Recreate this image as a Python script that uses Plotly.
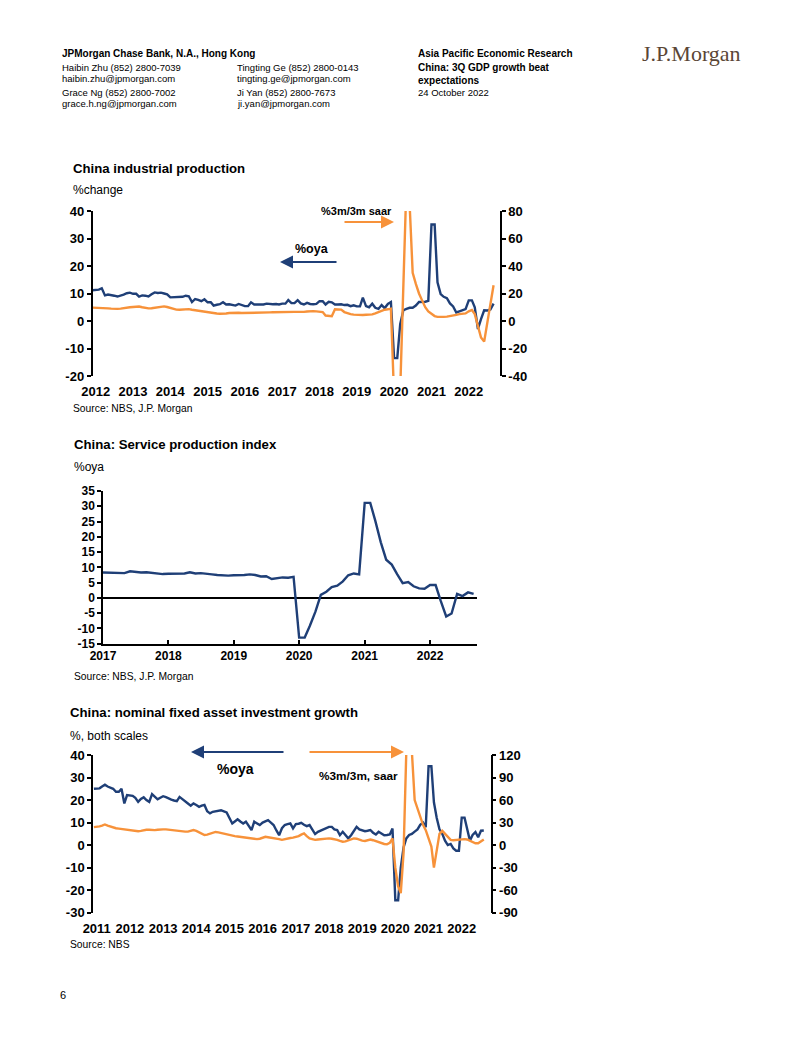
import pandas as pd
import plotly.graph_objects as go

W, H = 802, 1037
FONT = "Liberation Sans, Arial, sans-serif"
BLUE = "#1f3f77"
ORANGE = "#f7923a"

# ---------------- Chart 1: China industrial production (Dec 2011 - Sep 2022)
ip_start = "2011-12-01"
ip_oya = [11.2,
          11.4, 11.4, 11.9, 9.3, 9.6, 9.5, 9.2, 8.9, 9.2, 9.6, 10.1, 10.3,
          9.9, 9.9, 8.9, 9.3, 9.2, 8.9, 9.7, 10.4, 10.2, 10.3, 10.0, 9.7,
          8.6, 8.6, 8.8, 8.7, 8.8, 9.2, 9.0, 6.9, 8.0, 7.7, 7.2, 7.9,
          6.8, 6.8, 5.6, 5.9, 6.1, 6.8, 6.0, 6.1, 5.7, 5.6, 6.2, 5.9,
          5.4, 5.4, 6.8, 6.0, 6.0, 6.2, 6.0, 6.3, 6.1, 6.1, 6.2, 6.0,
          6.3, 6.3, 7.6, 6.5, 6.5, 7.6, 6.4, 6.0, 6.6, 6.2, 6.1, 6.2,
          7.2, 7.2, 6.0, 7.0, 6.8, 6.0, 6.0, 6.1, 5.8, 5.9, 5.4, 5.7,
          5.3, 5.3, 8.5, 5.4, 5.0, 6.3, 4.8, 4.4, 5.8, 4.7, 6.2, 6.9,
          -13.5, -13.5, -1.1, 3.9, 4.4, 4.8, 4.8, 5.6, 6.9, 6.9, 7.0, 7.3,
          35.1, 35.1, 14.1, 9.8, 8.8, 8.3, 6.4, 5.3, 3.1, 3.5, 3.8, 4.3,
          7.5, 7.5, 5.0, -2.9, 0.7, 3.9, 3.8, 4.2, 6.3]
ip_saar = [9.7,
           9.7, 9.7, 9.5, 9.3, 9.2, 9.0, 8.8, 8.8, 9.0, 9.5, 9.8, 10.0,
           10.2, 10.4, 10.5, 10.0, 9.5, 9.2, 9.3, 9.6, 10.0, 10.4, 10.6, 10.2,
           9.5, 8.8, 8.3, 8.2, 8.4, 8.6, 8.6, 8.2, 7.8, 7.6, 7.4, 7.0,
           6.6, 6.2, 5.8, 5.5, 5.3, 5.2, 5.5, 5.8, 6.0, 6.0, 6.0, 5.8,
           5.8, 5.9, 6.0, 6.0, 5.9, 5.8, 6.0, 6.1, 6.3, 6.4, 6.5, 6.5,
           6.4, 6.4, 6.5, 6.6, 6.6, 6.6, 6.5, 6.6, 6.9, 7.2, 7.2, 7.0,
           7.0, 6.5, 4.0, 3.6, 3.5, 8.5, 8.6, 8.3, 6.5, 5.5, 5.0, 4.6,
           4.4, 4.3, 4.4, 4.5, 4.5, 4.8, 5.5, 6.5, 7.5, 8.2, 8.5, 9.0,
           -55, -70, -50, 30, 100, 85, 35, 27, 20, 15, 10, 7,
           5, 3.6, 3.0, 2.8, 3.0, 3.2, 3.5, 4.0, 4.5, 5.0, 5.0, 5.5,
           7, 8, 5, -3, -12, -15, -1, 12, 26]
ip_years = list(range(2012, 2023))
ip_range = ["2011-12-01", "2022-11-03"]
ip_left_ticks = [-20, -10, 0, 10, 20, 30, 40]
ip_right_ticks = [-40, -20, 0, 20, 40, 60, 80]

# ---------------- Chart 2: Service production index (Jan 2017 - Sep 2022)
sv_start = "2017-01-01"
sv_oya = [8.3, 8.3, 8.2, 8.1, 8.1, 8.7, 8.4, 8.3, 8.4, 8.2, 7.9, 7.8,
          7.9, 7.9, 8.0, 8.0, 8.4, 8.0, 8.1, 8.0, 7.7, 7.5, 7.3, 7.3,
          7.4, 7.4, 7.5, 7.7, 7.5, 7.0, 7.1, 6.2, 6.4, 6.7, 6.6, 6.9,
          -13.0, -13.0, -9.1, -4.5, 1.0, 2.0, 3.5, 4.0, 5.4, 7.4, 8.0, 7.7,
          31.1, 31.1, 25.3, 18.2, 12.5, 10.9, 7.8, 4.8, 5.2, 3.8, 3.1, 3.0,
          4.2, 4.2, -0.9, -6.1, -5.1, 1.3, 0.6, 1.8, 1.3]
sv_years = list(range(2017, 2023))
sv_range = ["2017-01-01", "2022-09-20"]
sv_ticks = [-15, -10, -5, 0, 5, 10, 15, 20, 25, 30, 35]

# ---------------- Chart 3: nominal FAI growth (Dec 2010 - Sep 2022)
fai_start = "2010-12-01"
fai_oya = [25.0,
           25.0, 25.2, 26.0, 26.8, 26.0, 25.5, 25.0, 23.7, 23.7, 25.0, 18.5, 22.2,
           22.0, 21.9, 21.0, 19.2, 20.5, 21.2, 20.0, 19.2, 22.6, 21.5, 20.3, 21.0,
           21.7, 21.3, 20.7, 20.2, 19.8, 19.5, 21.4, 20.3, 19.2, 18.5, 17.5, 18.5,
           17.8, 17.0, 17.5, 17.8, 15.0, 14.1, 14.8, 15.0, 15.3, 15.5, 15.0, 14.5,
           12.0, 9.6, 10.5, 11.5, 10.5, 9.6, 10.4, 8.5, 6.7, 10.4, 9.5, 8.9,
           10.0, 10.4, 11.1, 10.0, 8.9, 6.5, 4.4, 7.5, 8.9, 9.3, 9.6, 7.4,
           9.3, 9.5, 9.9, 9.0, 8.4, 8.9, 7.0, 4.9, 5.9, 6.5, 7.0, 7.4,
           8.1, 8.1, 7.0, 6.7, 4.4, 5.9, 4.5, 3.0, 4.4, 6.5, 8.1, 7.0,
           6.5, 6.2, 6.4, 6.7, 5.5, 4.7, 5.9, 5.0, 4.4, 4.5, 4.7, 7.4,
           -24.5, -24.5, -10.0, -1.0, 3.0, 4.5, 5.0, 6.0, 7.0, 9.0, 10.0, 8.0,
           35.0, 35.0, 19.0, 12.0, 7.0, 5.0, 2.0, 0.0, 0.5, -1.5, -2.5, -2.5,
           12.2, 12.2, 7.0, 2.0, 4.5, 5.8, 3.5, 6.4, 6.5]
fai_saar = [24,
            24, 25, 26, 27.5, 26, 24.5, 23.5, 22.5, 22, 21.5, 21, 20.5,
            20, 19, 19, 18.5, 19, 20, 20.5, 20.5, 20, 20, 20.5, 21,
            21, 21, 20.5, 20, 20, 19, 19, 18.5, 18, 18, 19, 20,
            19, 17, 15, 13.5, 14, 15, 16, 17.5, 17, 16, 15, 14,
            13, 12.5, 12, 11.5, 11, 10.5, 11, 10, 9.5, 8.5, 8, 8.5,
            10, 11, 10.5, 10, 9.5, 9, 8, 7, 7.5, 8.5, 9.5, 10,
            11, 12, 14, 15.5, 12, 9, 8, 7, 7.5, 8, 8.5, 9,
            9, 8.5, 8, 7, 5.5, 4.5, 5, 6.5, 8, 9, 8.5, 7,
            6, 5.5, 6.5, 7.5, 6.5, 5, 4, 3, 1.5, 1, 3, 9,
            -30, -55, -64, -10, 125, 160, 125, 60, 48, 37, 27, 20,
            8, -2, -30, -8, 15, 19, 15, 10, 7, 6.5, 7, 8,
            8.5, 8, 7.5, 6, 4, 2.5, 2.4, 5, 7.5]
fai_years = list(range(2011, 2023))
fai_range = ["2010-11-21", "2022-11-16"]
fai_left_ticks = [-30, -20, -10, 0, 10, 20, 30, 40]
fai_right_ticks = [-90, -60, -30, 0, 30, 60, 90, 120]


def mdates(start, n):
    return pd.date_range(start, periods=n, freq="MS")


def ydates(years):
    return [f"{y}-01-01" for y in years]


def fx(px):
    return px / W


def fy(py):
    return 1 - py / H


def dom_x(a, b):
    return [fx(a), fx(b)]


def dom_y(top, bottom):
    return [fy(bottom), fy(top)]


def zero_pos(dom, rng):
    return dom[0] + (0 - rng[0]) / (rng[1] - rng[0]) * (dom[1] - dom[0])


fig = go.Figure()
LW = 2.4

fig.add_trace(go.Scatter(x=mdates(ip_start, len(ip_saar)), y=ip_saar, mode="lines",
                         line=dict(color=ORANGE, width=LW), xaxis="x", yaxis="y2",
                         showlegend=False, hoverinfo="skip"))
fig.add_trace(go.Scatter(x=mdates(ip_start, len(ip_oya)), y=ip_oya, mode="lines",
                         line=dict(color=BLUE, width=LW), xaxis="x", yaxis="y",
                         showlegend=False, hoverinfo="skip"))
fig.add_trace(go.Scatter(x=mdates(sv_start, len(sv_oya)), y=sv_oya, mode="lines",
                         line=dict(color=BLUE, width=LW), xaxis="x4", yaxis="y4",
                         showlegend=False, hoverinfo="skip"))
fig.add_trace(go.Scatter(x=mdates(fai_start, len(fai_oya)), y=fai_oya, mode="lines",
                         line=dict(color=BLUE, width=LW), xaxis="x5", yaxis="y5",
                         showlegend=False, hoverinfo="skip"))
fig.add_trace(go.Scatter(x=mdates(fai_start, len(fai_saar)), y=fai_saar, mode="lines",
                         line=dict(color=ORANGE, width=LW), xaxis="x5", yaxis="y6",
                         showlegend=False, hoverinfo="skip"))

tick_font = dict(family=FONT, size=13, color="black", weight="bold")
axline = dict(showline=True, linecolor="black", linewidth=1.5, showgrid=False, zeroline=False,
              automargin=False)
noline = dict(showline=False, showgrid=False, zeroline=False, automargin=False)


def yticks(vals):
    return dict(tickvals=vals, ticktext=[str(v) for v in vals])


def xticks(years):
    return dict(tickvals=ydates(years), ticktext=[str(y) for y in years])


c1x, c1y = dom_x(92.5, 500), dom_y(211, 376)
c1yr, c1y2r = [-20, 40], [-40, 80]
c2x, c2y = dom_x(103, 477), dom_y(491, 643.7)
c2yr = [-15, 35]
c3x, c3y = dom_x(93, 490.7), dom_y(755, 912.7)
c3yr, c3y2r = [-30, 40], [-90, 120]

layout = dict(
    width=W, height=H, margin=dict(l=0, r=0, t=0, b=0, autoexpand=False), autosize=False,
    paper_bgcolor="white", plot_bgcolor="rgba(0,0,0,0)",
    font=dict(family=FONT, color="black"),
    showlegend=False,
    # chart 1
    xaxis=dict(domain=c1x, anchor="y", type="date", range=ip_range, **xticks(ip_years),
               ticks="", tickfont=tick_font, ticklabelstandoff=6, **noline),
    xaxis3=dict(overlaying="x", anchor="free", position=zero_pos(c1y, c1yr),
                type="date", range=ip_range, tickvals=ydates(ip_years),
                showticklabels=False, ticks="inside", ticklen=4, tickwidth=1.5,
                tickcolor="black", **axline),
    yaxis=dict(domain=c1y, anchor="x", range=c1yr, **yticks(ip_left_ticks), ticks="outside",
               ticklen=4, tickwidth=1.5, tickcolor="black", tickfont=tick_font, **axline),
    yaxis2=dict(overlaying="y", side="right", anchor="x", range=c1y2r, **yticks(ip_right_ticks),
                ticks="outside", ticklen=4, tickwidth=1.5, tickcolor="black",
                tickfont=tick_font, **axline),
    # chart 2
    xaxis4=dict(domain=c2x, anchor="y4", type="date", range=sv_range, **xticks(sv_years),
                ticks="inside", ticklen=4, tickwidth=1.5, tickcolor="black",
                tickfont=dict(tick_font, size=12), **axline),
    yaxis4=dict(domain=c2y, anchor="x4", range=c2yr, **yticks(sv_ticks), ticks="outside",
                ticklen=4, tickwidth=1.5, tickcolor="black",
                tickfont=dict(tick_font, size=12),
                showline=True, linecolor="black", linewidth=1.5, showgrid=False,
                zeroline=True, zerolinecolor="black", zerolinewidth=1.5, automargin=False),
    # chart 3
    xaxis5=dict(domain=c3x, anchor="y5", type="date", range=fai_range, **xticks(fai_years),
                ticks="", tickfont=tick_font, ticklabelstandoff=6, **noline),
    xaxis7=dict(overlaying="x5", anchor="free", position=zero_pos(c3y, c3yr),
                type="date", range=fai_range, tickvals=ydates(fai_years),
                showticklabels=False, ticks="inside", ticklen=4, tickwidth=1.5,
                tickcolor="black", **axline),
    yaxis5=dict(domain=c3y, anchor="x5", range=c3yr, **yticks(fai_left_ticks), ticks="outside",
                ticklen=4, tickwidth=1.5, tickcolor="black", tickfont=tick_font, **axline),
    yaxis6=dict(overlaying="y5", side="right", anchor="x5", range=c3y2r, **yticks(fai_right_ticks),
                ticks="outside", ticklen=4, tickwidth=1.5, tickcolor="black",
                tickfont=tick_font, **axline),
)
fig.update_layout(**layout)

ann = []


def text(px, py, s, size, bold=False, color="black", family=FONT, xanchor="left"):
    ann.append(dict(x=fx(px), y=fy(py), xref="paper", yref="paper", text=(f"<b>{s}</b>" if bold else s),
                    showarrow=False, xanchor=xanchor, yanchor="middle",
                    font=dict(family=family, size=size, color=color)))


def arrow(head_x, tail_x, py, color):
    ann.append(dict(x=fx(head_x), y=fy(py), xref="paper", yref="paper", text="",
                    showarrow=True, ax=tail_x - head_x, ay=0, axref="pixel", ayref="pixel",
                    arrowhead=2, arrowsize=1.3, arrowwidth=2, arrowcolor=color))


# header
text(60, 54, "JPMorgan Chase Bank, N.A., Hong Kong", 10, bold=True)
text(60, 67, "Haibin Zhu (852) 2800-7039", 9.5)
text(60, 79, "haibin.zhu@jpmorgan.com", 9.5)
text(60, 93, "Grace Ng (852) 2800-7002", 9.5)
text(60, 104, "grace.h.ng@jpmorgan.com", 9.5)
text(235, 67, "Tingting Ge (852) 2800-0143", 9.5)
text(235, 79, "tingting.ge@jpmorgan.com", 9.5)
text(235, 93, "Ji Yan (852) 2800-7673", 9.5)
text(235, 104, "ji.yan@jpmorgan.com", 9.5)
text(416, 54, "Asia Pacific Economic Research", 10, bold=True)
text(416, 67, "China: 3Q GDP growth beat", 10, bold=True)
text(416, 80, "expectations", 10, bold=True)
text(416, 92, "24 October 2022", 9.5)
text(640, 54, "J.P.Morgan", 22, color="#5a4636", family="Liberation Serif, Times New Roman, serif")

# chart 1 texts
text(71, 168, "China industrial production", 13.2, bold=True)
text(71, 190, "%change", 12)
text(71, 408, "Source: NBS, J.P. Morgan", 10.3)
text(356, 211, "%3m/3m saar", 11, bold=True, xanchor="center")
arrow(394, 343, 222, ORANGE)
text(312, 249, "%oya", 12.5, bold=True, xanchor="center")
arrow(280, 338, 262, BLUE)

# chart 2 texts
text(72, 445, "China: Service production index", 13.2, bold=True)
text(72, 467, "%oya", 12)
text(72, 676, "Source: NBS, J.P. Morgan", 10.3)

# chart 3 texts
text(68, 712, "China: nominal fixed asset investment growth", 13.2, bold=True)
text(68, 736, "%, both scales", 12)
text(68, 944, "Source: NBS", 10.3)
arrow(191, 285, 752, BLUE)
text(235, 769, "%oya", 14, bold=True, xanchor="center")
arrow(404, 308, 752, ORANGE)
text(358, 776, "%3m/3m, saar", 11.8, bold=True, xanchor="center")

# page number
text(58, 995, "6", 11)

fig.update_layout(annotations=ann)
fig.write_html("out.html")
